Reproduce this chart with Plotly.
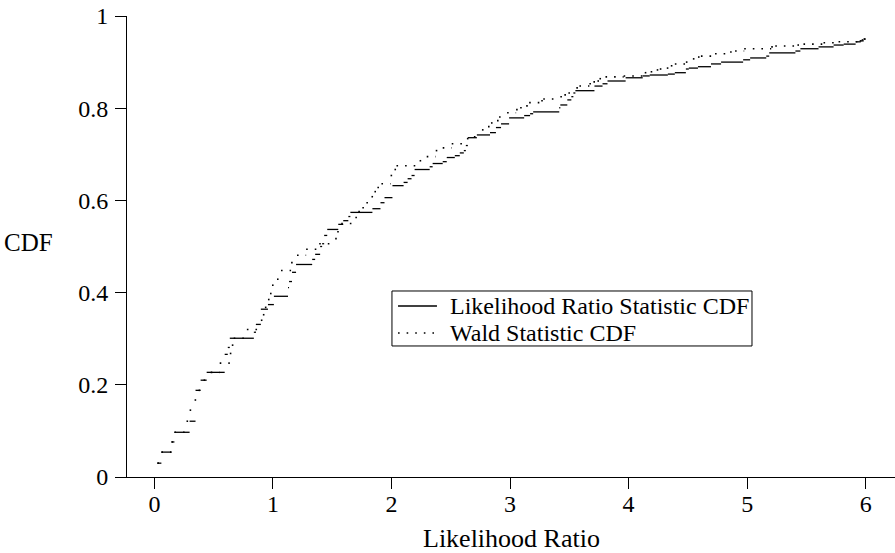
import plotly.graph_objects as go

# Step levels of the two CDFs (segment i spans x[i] .. x[i+1] at cdf[i])
lr_x = [0.025, 0.059, 0.144, 0.169, 0.297, 0.347, 0.390, 0.441, 0.593, 0.619, 0.636, 0.839, 0.856, 0.898, 0.958,
        1.008, 1.127, 1.136, 1.161, 1.195, 1.331, 1.356, 1.398, 1.415, 1.432, 1.458, 1.551, 1.593, 1.636, 1.653,
        1.839, 1.907, 1.941, 2.008, 2.102, 2.136, 2.169, 2.195, 2.322, 2.347, 2.432, 2.466, 2.534, 2.576, 2.610,
        2.627, 2.644, 2.720, 2.831, 2.881, 2.924, 2.992, 3.119, 3.169, 3.195, 3.415, 3.424, 3.483, 3.517, 3.534,
        3.551, 3.712, 3.780, 3.822, 3.975, 4.119, 4.178, 4.331, 4.390, 4.483, 4.508, 4.585, 4.695, 4.780, 4.966,
        5.025, 5.161, 5.186, 5.407, 5.449, 5.602, 5.729, 5.814, 5.915, 5.958, 5.983]
lr_cdf = [0.030, 0.054, 0.076, 0.097, 0.121, 0.188, 0.210, 0.227, 0.266, 0.281, 0.301, 0.314, 0.331, 0.364, 0.374,
          0.392, 0.411, 0.424, 0.444, 0.461, 0.472, 0.483, 0.500, 0.506, 0.524, 0.537, 0.548, 0.556, 0.565, 0.574,
          0.582, 0.595, 0.606, 0.632, 0.639, 0.647, 0.654, 0.667, 0.673, 0.680, 0.684, 0.693, 0.697, 0.703, 0.708,
          0.719, 0.736, 0.742, 0.747, 0.758, 0.766, 0.779, 0.784, 0.788, 0.792, 0.801, 0.807, 0.818, 0.825, 0.833,
          0.838, 0.848, 0.853, 0.859, 0.866, 0.870, 0.872, 0.874, 0.877, 0.885, 0.887, 0.890, 0.896, 0.900, 0.905,
          0.909, 0.913, 0.920, 0.924, 0.929, 0.933, 0.937, 0.939, 0.944, 0.946, 0.950]
lr_end = 6.0

wald_x = [0.025, 0.059, 0.144, 0.169, 0.271, 0.297, 0.339, 0.373, 0.415, 0.475, 0.551, 0.636, 0.653, 0.669, 0.780,
          0.898, 0.915, 0.932, 0.958, 0.975, 0.992, 1.034, 1.068, 1.153, 1.203, 1.280, 1.390, 1.525, 1.542, 1.576,
          1.695, 1.720, 1.754, 1.788, 1.831, 1.856, 1.881, 1.915, 1.992, 2.025, 2.042, 2.237, 2.297, 2.373, 2.432,
          2.508, 2.636, 2.695, 2.763, 2.814, 2.839, 2.890, 2.907, 2.975, 3.051, 3.085, 3.136, 3.161, 3.263, 3.280,
          3.424, 3.458, 3.492, 3.559, 3.585, 3.669, 3.703, 3.737, 3.754, 3.805, 3.958, 4.136, 4.186, 4.237, 4.263,
          4.322, 4.356, 4.390, 4.483, 4.542, 4.585, 4.610, 4.729, 4.856, 4.898, 4.975, 5.203, 5.237, 5.424, 5.475,
          5.644, 5.771, 5.949, 5.966, 5.983]
wald_cdf = [0.030, 0.054, 0.076, 0.097, 0.121, 0.145, 0.167, 0.188, 0.210, 0.227, 0.247, 0.268, 0.286, 0.301, 0.320,
            0.340, 0.352, 0.368, 0.385, 0.398, 0.416, 0.429, 0.448, 0.465, 0.481, 0.494, 0.506, 0.517, 0.532, 0.550,
            0.563, 0.576, 0.584, 0.595, 0.608, 0.619, 0.628, 0.636, 0.654, 0.667, 0.675, 0.686, 0.695, 0.708, 0.714,
            0.723, 0.734, 0.738, 0.753, 0.760, 0.768, 0.773, 0.781, 0.790, 0.797, 0.801, 0.805, 0.812, 0.816, 0.820,
            0.825, 0.829, 0.833, 0.844, 0.848, 0.853, 0.857, 0.859, 0.864, 0.868, 0.870, 0.877, 0.879, 0.883, 0.885,
            0.887, 0.892, 0.896, 0.900, 0.907, 0.911, 0.913, 0.918, 0.922, 0.924, 0.929, 0.933, 0.935, 0.937, 0.939,
            0.942, 0.944, 0.946, 0.948, 0.950]
wald_end = 6.0

x_ticks = [0, 1, 2, 3, 4, 5, 6]
y_ticks = [0, 0.2, 0.4, 0.6, 0.8, 1]
y_tick_labels = ["0", "0.2", "0.4", "0.6", "0.8", "1"]

names = ["Likelihood Ratio Statistic CDF", "Wald Statistic CDF"]


def segments(xs, ys, end):
    px, py = [], []
    nxt = xs[1:] + [end]
    for x0, x1, y in zip(xs, nxt, ys):
        px += [x0, x1, None]
        py += [y, y, None]
    return px, py


FONT = "Liberation Serif"
SOLID = dict(color="black", width=1.3)
DOTTED = dict(color="black", width=1.6, dash="1.6px,7px")

fig = go.Figure()
sx, sy = segments(lr_x, lr_cdf, lr_end)
fig.add_trace(go.Scatter(x=sx, y=sy, mode="lines", name=names[0], line=SOLID))
wx, wy = segments(wald_x, wald_cdf, wald_end)
fig.add_trace(go.Scatter(x=wx, y=wy, mode="lines", name=names[1], line=DOTTED))

# legend drawn as a framed box (paper coordinates)
lg_x0, lg_x1, lg_y0, lg_y1 = 0.345, 0.8138, 0.2842, 0.4035
row_y = [0.3709, 0.3124]
sample_x0, sample_x1, text_x = 0.3529, 0.4036, 0.418

shapes = [dict(type="rect", xref="paper", yref="paper", x0=lg_x0, x1=lg_x1, y0=lg_y0, y1=lg_y1,
               line=dict(color="black", width=1), fillcolor="white", layer="above")]
annotations = []
for name, ly, style in zip(names, row_y, [SOLID, DOTTED]):
    shapes.append(dict(type="line", xref="paper", yref="paper", x0=sample_x0, x1=sample_x1,
                       y0=ly, y1=ly, line=style, layer="above"))
    annotations.append(dict(text=name, xref="paper", yref="paper", x=text_x, y=ly,
                            xanchor="left", yanchor="middle", showarrow=False,
                            font=dict(family=FONT, size=24, color="black")))

annotations += [
    dict(text="Likelihood Ratio", xref="paper", yref="paper", x=0.5, y=-0.133,
         xanchor="center", yanchor="middle", showarrow=False,
         font=dict(family=FONT, size=26, color="black")),
    dict(text="CDF", xref="paper", yref="paper", x=-0.128, y=0.508,
         xanchor="center", yanchor="middle", showarrow=False,
         font=dict(family=FONT, size=25, color="black")),
]

fig.update_layout(
    width=895, height=553,
    margin=dict(l=127, r=0, t=16, b=76),
    paper_bgcolor="white", plot_bgcolor="white",
    font=dict(family=FONT, color="black", size=23),
    showlegend=False,
    xaxis=dict(range=[-0.231, 6.247], showline=True, linecolor="black", linewidth=1,
               ticks="outside", ticklen=11, tickwidth=1, tickcolor="black",
               tickvals=x_ticks, ticktext=[str(v) for v in x_ticks],
               showgrid=False, zeroline=False, ticklabelstandoff=-6,
               tickfont=dict(family=FONT, size=24, color="black")),
    yaxis=dict(range=[0, 1], showline=True, linecolor="black", linewidth=1,
               ticks="outside", ticklen=11, tickwidth=1, tickcolor="black",
               tickvals=y_ticks, ticktext=y_tick_labels,
               showgrid=False, zeroline=False, ticklabelstandoff=2,
               tickfont=dict(family=FONT, size=24, color="black")),
    shapes=shapes,
    annotations=annotations,
)

fig.write_html("out.html")
